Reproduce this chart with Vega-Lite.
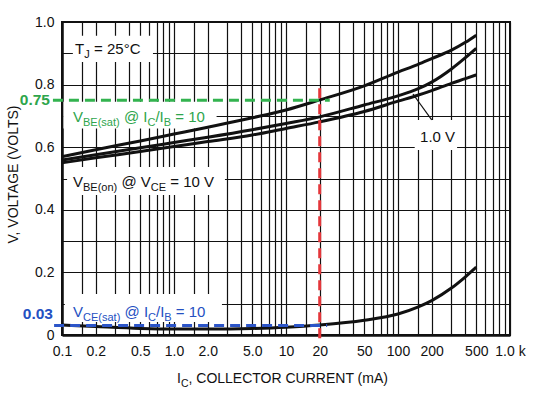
{
  "$schema": "https://vega.github.io/schema/vega-lite/v6.json",
  "width": 448,
  "height": 313,
  "autosize": {"type": "none"},
  "padding": {"left": 62, "top": 22, "right": 30, "bottom": 60},
  "background": "white",
  "config": {"view": {"stroke": "#111", "strokeWidth": 2}, "font": "Liberation Sans"},
  "datasets": {
    "curves": [
      {"series": "VBE(sat) @ IC/IB = 10", "x": 0.1, "y": 0.570},
      {"series": "VBE(sat) @ IC/IB = 10", "x": 0.2, "y": 0.592},
      {"series": "VBE(sat) @ IC/IB = 10", "x": 0.5, "y": 0.620},
      {"series": "VBE(sat) @ IC/IB = 10", "x": 1, "y": 0.642},
      {"series": "VBE(sat) @ IC/IB = 10", "x": 2, "y": 0.664},
      {"series": "VBE(sat) @ IC/IB = 10", "x": 5, "y": 0.694},
      {"series": "VBE(sat) @ IC/IB = 10", "x": 10, "y": 0.719},
      {"series": "VBE(sat) @ IC/IB = 10", "x": 20, "y": 0.751},
      {"series": "VBE(sat) @ IC/IB = 10", "x": 50, "y": 0.796},
      {"series": "VBE(sat) @ IC/IB = 10", "x": 100, "y": 0.840},
      {"series": "VBE(sat) @ IC/IB = 10", "x": 150, "y": 0.864},
      {"series": "VBE(sat) @ IC/IB = 10", "x": 200, "y": 0.883},
      {"series": "VBE(sat) @ IC/IB = 10", "x": 300, "y": 0.910},
      {"series": "VBE(sat) @ IC/IB = 10", "x": 400, "y": 0.935},
      {"series": "VBE(sat) @ IC/IB = 10", "x": 500, "y": 0.958},
      {"series": "VBE(on) @ VCE = 1.0 V", "x": 0.1, "y": 0.559},
      {"series": "VBE(on) @ VCE = 1.0 V", "x": 0.2, "y": 0.576},
      {"series": "VBE(on) @ VCE = 1.0 V", "x": 0.5, "y": 0.598},
      {"series": "VBE(on) @ VCE = 1.0 V", "x": 1, "y": 0.615},
      {"series": "VBE(on) @ VCE = 1.0 V", "x": 2, "y": 0.632},
      {"series": "VBE(on) @ VCE = 1.0 V", "x": 5, "y": 0.656},
      {"series": "VBE(on) @ VCE = 1.0 V", "x": 10, "y": 0.676},
      {"series": "VBE(on) @ VCE = 1.0 V", "x": 20, "y": 0.697},
      {"series": "VBE(on) @ VCE = 1.0 V", "x": 50, "y": 0.735},
      {"series": "VBE(on) @ VCE = 1.0 V", "x": 100, "y": 0.764},
      {"series": "VBE(on) @ VCE = 1.0 V", "x": 150, "y": 0.786},
      {"series": "VBE(on) @ VCE = 1.0 V", "x": 200, "y": 0.808},
      {"series": "VBE(on) @ VCE = 1.0 V", "x": 300, "y": 0.850},
      {"series": "VBE(on) @ VCE = 1.0 V", "x": 400, "y": 0.886},
      {"series": "VBE(on) @ VCE = 1.0 V", "x": 500, "y": 0.916},
      {"series": "VBE(on) @ VCE = 10 V", "x": 0.1, "y": 0.550},
      {"series": "VBE(on) @ VCE = 10 V", "x": 0.2, "y": 0.566},
      {"series": "VBE(on) @ VCE = 10 V", "x": 0.5, "y": 0.586},
      {"series": "VBE(on) @ VCE = 10 V", "x": 1, "y": 0.602},
      {"series": "VBE(on) @ VCE = 10 V", "x": 2, "y": 0.618},
      {"series": "VBE(on) @ VCE = 10 V", "x": 5, "y": 0.639},
      {"series": "VBE(on) @ VCE = 10 V", "x": 10, "y": 0.660},
      {"series": "VBE(on) @ VCE = 10 V", "x": 20, "y": 0.681},
      {"series": "VBE(on) @ VCE = 10 V", "x": 50, "y": 0.714},
      {"series": "VBE(on) @ VCE = 10 V", "x": 100, "y": 0.747},
      {"series": "VBE(on) @ VCE = 10 V", "x": 150, "y": 0.766},
      {"series": "VBE(on) @ VCE = 10 V", "x": 200, "y": 0.781},
      {"series": "VBE(on) @ VCE = 10 V", "x": 300, "y": 0.804},
      {"series": "VBE(on) @ VCE = 10 V", "x": 400, "y": 0.819},
      {"series": "VBE(on) @ VCE = 10 V", "x": 500, "y": 0.831},
      {"series": "VCE(sat) @ IC/IB = 10", "x": 0.1, "y": 0.032},
      {"series": "VCE(sat) @ IC/IB = 10", "x": 0.2, "y": 0.027},
      {"series": "VCE(sat) @ IC/IB = 10", "x": 0.5, "y": 0.021},
      {"series": "VCE(sat) @ IC/IB = 10", "x": 1, "y": 0.019},
      {"series": "VCE(sat) @ IC/IB = 10", "x": 2, "y": 0.019},
      {"series": "VCE(sat) @ IC/IB = 10", "x": 5, "y": 0.021},
      {"series": "VCE(sat) @ IC/IB = 10", "x": 10, "y": 0.025},
      {"series": "VCE(sat) @ IC/IB = 10", "x": 20, "y": 0.032},
      {"series": "VCE(sat) @ IC/IB = 10", "x": 50, "y": 0.047},
      {"series": "VCE(sat) @ IC/IB = 10", "x": 100, "y": 0.067},
      {"series": "VCE(sat) @ IC/IB = 10", "x": 150, "y": 0.089},
      {"series": "VCE(sat) @ IC/IB = 10", "x": 200, "y": 0.110},
      {"series": "VCE(sat) @ IC/IB = 10", "x": 300, "y": 0.150},
      {"series": "VCE(sat) @ IC/IB = 10", "x": 400, "y": 0.186},
      {"series": "VCE(sat) @ IC/IB = 10", "x": 500, "y": 0.217}
    ],
    "guides": [
      {"g": "green", "x": 0.083, "x2": 24.6, "y": 0.75, "y2": 0.75},
      {"g": "red", "x": 20, "x2": 20, "y": -0.01, "y2": 0.789},
      {"g": "blue", "x": 0.085, "x2": 23.3, "y": 0.03, "y2": 0.03}
    ],
    "boxes": [
      {"box": "tj", "x": 0.125, "x2": 0.649, "y": 0.872, "y2": 0.956},
      {"box": "vbesat", "x": 0.103, "x2": 2.4, "y": 0.66, "y2": 0.745},
      {"box": "vbeon", "x": 0.111, "x2": 2.85, "y": 0.447, "y2": 0.537},
      {"box": "v1", "x": 141, "x2": 337, "y": 0.591, "y2": 0.687},
      {"box": "vcesat", "x": 0.106, "x2": 2.68, "y": 0.0415, "y2": 0.131}
    ],
    "arrow": [
      {"x": 200, "y": 0.687, "x2": 136, "y2": 0.770}
    ],
    "labels": [
      {"key": "tj", "x": 0.1307, "y": 0.898},
      {"key": "vbesat", "x": 0.1254, "y": 0.681},
      {"key": "vbeon", "x": 0.1254, "y": 0.474},
      {"key": "v1", "x": 157.5, "y": 0.618},
      {"key": "vcesat", "x": 0.1254, "y": 0.0585},
      {"key": "xtitle", "x": 1.064, "y": -0.152},
      {"key": "v075", "x": 0.0781, "y": 0.75},
      {"key": "v003", "x": 0.0831, "y": 0.03}
    ]
  },
  "encoding": {
    "x": {
      "field": "x", "type": "quantitative",
      "scale": {"type": "log", "domain": [0.1, 1000]},
      "axis": {
        "title": null,
        "values": [0.1,0.15,0.2,0.3,0.4,0.5,0.6,0.7,0.8,0.9,1,1.5,2,3,4,5,6,7,8,9,10,15,20,30,40,50,60,70,80,90,100,150,200,300,400,500,600,700,800,900,1000],
        "labelExpr": "datum.value == 1000 ? '1.0 k' : (indexof([0.1,0.2,0.5,1,2,5,10,20,50,100,200,500], datum.value) >= 0 ? (datum.value < 10 ? format(datum.value, '.1f') : format(datum.value, 'd')) : '')",
        "grid": true, "gridColor": "#111", "gridWidth": 1.2, "gridOpacity": 1,
        "ticks": false,
        "domainColor": "#111", "domainWidth": 2.5,
        "labelFont": "Liberation Sans", "labelFontSize": 14, "labelColor": "#111",
        "labelPadding": 9, "labelOverlap": false, "labelFlush": false, "labelBound": false
      }
    },
    "y": {
      "field": "y", "type": "quantitative",
      "scale": {"domain": [0, 1]},
      "axis": {
        "title": "V, VOLTAGE (VOLTS)",
        "values": [0,0.1,0.2,0.3,0.4,0.5,0.6,0.7,0.8,0.9,1],
        "labelExpr": "round(datum.value*10) % 2 == 0 ? (datum.value == 0 ? '0' : format(datum.value, '.1f')) : ''",
        "grid": true, "gridColor": "#111", "gridWidth": 1.2, "gridOpacity": 1,
        "ticks": false,
        "domainColor": "#111", "domainWidth": 2.5,
        "labelFont": "Liberation Sans", "labelFontSize": 14, "labelColor": "#111",
        "labelPadding": 8, "labelOverlap": false,
        "titleFont": "Liberation Sans", "titleFontSize": 14, "titleFontWeight": "normal", "titleColor": "#111",
        "titleBaseline": "middle", "titleX": -49, "titleY": 152
      }
    }
  },
  "layer": [
    {
      "data": {"name": "boxes"},
      "mark": {"type": "rect", "fill": "white", "strokeWidth": 0},
      "encoding": {"x2": {"field": "x2"}, "y2": {"field": "y2"}}
    },
    {
      "data": {"name": "curves"},
      "mark": {"type": "line", "color": "#111", "strokeWidth": 3, "interpolate": "monotone"},
      "encoding": {"detail": {"field": "series"}}
    },
    {
      "data": {"name": "guides"},
      "mark": {"type": "rule", "strokeWidth": 3, "strokeDash": [10, 6]},
      "encoding": {
        "x2": {"field": "x2"}, "y2": {"field": "y2"},
        "color": {"field": "g", "type": "nominal", "legend": null,
          "scale": {"domain": ["green", "red", "blue"], "range": ["#33b34f", "#e4363a", "#2c55c8"]}}
      }
    },
    {
      "data": {"name": "arrow"},
      "mark": {"type": "rule", "color": "#111", "strokeWidth": 1.2},
      "encoding": {"x2": {"field": "x2"}, "y2": {"field": "y2"}}
    },
    {
      "data": {"name": "arrow"},
      "mark": {"type": "point", "shape": "M0,0L0.6,2L-0.6,2Z", "size": 16, "filled": true, "color": "#111", "opacity": 1, "angle": 324},
      "encoding": {"x": {"field": "x2", "type": "quantitative"}, "y": {"field": "y2", "type": "quantitative"}}
    },
    {"data": {"name": "labels"}, "transform": [{"filter": "datum.key == 'tj'"}],
     "mark": {"type": "text", "text": "T", "align": "left", "baseline": "alphabetic", "font": "Liberation Sans", "fontSize": 15, "color": "#111", "dx": 0}},
    {"data": {"name": "labels"}, "transform": [{"filter": "datum.key == 'tj'"}],
     "mark": {"type": "text", "text": "J", "align": "left", "baseline": "alphabetic", "font": "Liberation Sans", "fontSize": 11, "color": "#111", "dx": 9.2, "dy": 4}},
    {"data": {"name": "labels"}, "transform": [{"filter": "datum.key == 'tj'"}],
     "mark": {"type": "text", "text": "= 25°C", "align": "left", "baseline": "alphabetic", "font": "Liberation Sans", "fontSize": 15, "color": "#111", "dx": 19}},

    {"data": {"name": "labels"}, "transform": [{"filter": "datum.key == 'vbesat'"}],
     "mark": {"type": "text", "text": "V", "align": "left", "baseline": "alphabetic", "font": "Liberation Sans", "fontSize": 15, "color": "#2ea54c", "dx": 0}},
    {"data": {"name": "labels"}, "transform": [{"filter": "datum.key == 'vbesat'"}],
     "mark": {"type": "text", "text": "BE(sat)", "align": "left", "baseline": "alphabetic", "font": "Liberation Sans", "fontSize": 11, "color": "#2ea54c", "dx": 10, "dy": 4}},
    {"data": {"name": "labels"}, "transform": [{"filter": "datum.key == 'vbesat'"}],
     "mark": {"type": "text", "text": "@ I", "align": "left", "baseline": "alphabetic", "font": "Liberation Sans", "fontSize": 15, "color": "#2ea54c", "dx": 50.9}},
    {"data": {"name": "labels"}, "transform": [{"filter": "datum.key == 'vbesat'"}],
     "mark": {"type": "text", "text": "C", "align": "left", "baseline": "alphabetic", "font": "Liberation Sans", "fontSize": 11, "color": "#2ea54c", "dx": 74.5, "dy": 4}},
    {"data": {"name": "labels"}, "transform": [{"filter": "datum.key == 'vbesat'"}],
     "mark": {"type": "text", "text": "/I", "align": "left", "baseline": "alphabetic", "font": "Liberation Sans", "fontSize": 15, "color": "#2ea54c", "dx": 82.4}},
    {"data": {"name": "labels"}, "transform": [{"filter": "datum.key == 'vbesat'"}],
     "mark": {"type": "text", "text": "B", "align": "left", "baseline": "alphabetic", "font": "Liberation Sans", "fontSize": 11, "color": "#2ea54c", "dx": 90.7, "dy": 4}},
    {"data": {"name": "labels"}, "transform": [{"filter": "datum.key == 'vbesat'"}],
     "mark": {"type": "text", "text": "= 10", "align": "left", "baseline": "alphabetic", "font": "Liberation Sans", "fontSize": 15, "color": "#2ea54c", "dx": 102.2}},

    {"data": {"name": "labels"}, "transform": [{"filter": "datum.key == 'vbeon'"}],
     "mark": {"type": "text", "text": "V", "align": "left", "baseline": "alphabetic", "font": "Liberation Sans", "fontSize": 15, "color": "#111", "dx": 0}},
    {"data": {"name": "labels"}, "transform": [{"filter": "datum.key == 'vbeon'"}],
     "mark": {"type": "text", "text": "BE(on)", "align": "left", "baseline": "alphabetic", "font": "Liberation Sans", "fontSize": 11, "color": "#111", "dx": 10, "dy": 4}},
    {"data": {"name": "labels"}, "transform": [{"filter": "datum.key == 'vbeon'"}],
     "mark": {"type": "text", "text": "@ V", "align": "left", "baseline": "alphabetic", "font": "Liberation Sans", "fontSize": 15, "color": "#111", "dx": 48.4}},
    {"data": {"name": "labels"}, "transform": [{"filter": "datum.key == 'vbeon'"}],
     "mark": {"type": "text", "text": "CE", "align": "left", "baseline": "alphabetic", "font": "Liberation Sans", "fontSize": 11, "color": "#111", "dx": 77.8, "dy": 4}},
    {"data": {"name": "labels"}, "transform": [{"filter": "datum.key == 'vbeon'"}],
     "mark": {"type": "text", "text": "= 10 V", "align": "left", "baseline": "alphabetic", "font": "Liberation Sans", "fontSize": 15, "color": "#111", "dx": 97.3}},

    {"data": {"name": "labels"}, "transform": [{"filter": "datum.key == 'v1'"}],
     "mark": {"type": "text", "text": "1.0 V", "align": "left", "baseline": "alphabetic", "font": "Liberation Sans", "fontSize": 15, "color": "#111"}},

    {"data": {"name": "labels"}, "transform": [{"filter": "datum.key == 'vcesat'"}],
     "mark": {"type": "text", "text": "V", "align": "left", "baseline": "alphabetic", "font": "Liberation Sans", "fontSize": 15, "color": "#2450c2", "dx": 0}},
    {"data": {"name": "labels"}, "transform": [{"filter": "datum.key == 'vcesat'"}],
     "mark": {"type": "text", "text": "CE(sat)", "align": "left", "baseline": "alphabetic", "font": "Liberation Sans", "fontSize": 11, "color": "#2450c2", "dx": 10, "dy": 4}},
    {"data": {"name": "labels"}, "transform": [{"filter": "datum.key == 'vcesat'"}],
     "mark": {"type": "text", "text": "@ I", "align": "left", "baseline": "alphabetic", "font": "Liberation Sans", "fontSize": 15, "color": "#2450c2", "dx": 51.5}},
    {"data": {"name": "labels"}, "transform": [{"filter": "datum.key == 'vcesat'"}],
     "mark": {"type": "text", "text": "C", "align": "left", "baseline": "alphabetic", "font": "Liberation Sans", "fontSize": 11, "color": "#2450c2", "dx": 75.1, "dy": 4}},
    {"data": {"name": "labels"}, "transform": [{"filter": "datum.key == 'vcesat'"}],
     "mark": {"type": "text", "text": "/I", "align": "left", "baseline": "alphabetic", "font": "Liberation Sans", "fontSize": 15, "color": "#2450c2", "dx": 83.0}},
    {"data": {"name": "labels"}, "transform": [{"filter": "datum.key == 'vcesat'"}],
     "mark": {"type": "text", "text": "B", "align": "left", "baseline": "alphabetic", "font": "Liberation Sans", "fontSize": 11, "color": "#2450c2", "dx": 91.3, "dy": 4}},
    {"data": {"name": "labels"}, "transform": [{"filter": "datum.key == 'vcesat'"}],
     "mark": {"type": "text", "text": "= 10", "align": "left", "baseline": "alphabetic", "font": "Liberation Sans", "fontSize": 15, "color": "#2450c2", "dx": 102.8}},

    {"data": {"name": "labels"}, "transform": [{"filter": "datum.key == 'xtitle'"}],
     "mark": {"type": "text", "text": "I", "align": "left", "baseline": "alphabetic", "font": "Liberation Sans", "fontSize": 14, "color": "#111", "dx": 0}},
    {"data": {"name": "labels"}, "transform": [{"filter": "datum.key == 'xtitle'"}],
     "mark": {"type": "text", "text": "C", "align": "left", "baseline": "alphabetic", "font": "Liberation Sans", "fontSize": 10.5, "color": "#111", "dx": 3.9, "dy": 4}},
    {"data": {"name": "labels"}, "transform": [{"filter": "datum.key == 'xtitle'"}],
     "mark": {"type": "text", "text": ", COLLECTOR CURRENT (mA)", "align": "left", "baseline": "alphabetic", "font": "Liberation Sans", "fontSize": 14, "color": "#111", "dx": 11.5}},

    {"data": {"name": "labels"}, "transform": [{"filter": "datum.key == 'v075'"}],
     "mark": {"type": "text", "text": "0.75", "align": "right", "baseline": "middle", "font": "Liberation Sans", "fontWeight": "bold", "fontSize": 15.5, "color": "#2ea54c"}},
    {"data": {"name": "labels"}, "transform": [{"filter": "datum.key == 'v003'"}],
     "mark": {"type": "text", "text": "0.03", "align": "right", "baseline": "middle", "font": "Liberation Sans", "fontWeight": "bold", "fontSize": 15.5, "color": "#2450c2", "dy": -12}}
  ]
}
